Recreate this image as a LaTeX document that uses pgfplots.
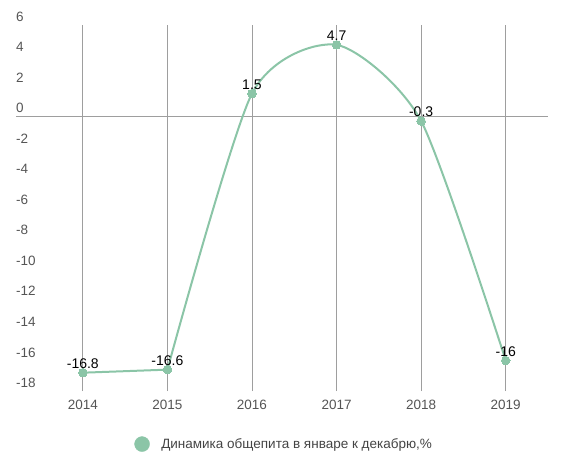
\documentclass[border=0pt]{standalone}
\usepackage{fontspec}
\setmainfont{Liberation Sans}
\usepackage{pgfplots}
\pgfplotsset{compat=1.18}
\definecolor{lc}{HTML}{8BC5A7}
\definecolor{gridc}{HTML}{9E9E9E}
\definecolor{tickc}{HTML}{555555}
\definecolor{legc}{HTML}{444444}
\begin{document}
\begin{tikzpicture}
\useasboundingbox (0,0) rectangle (577bp,466bp);
\begin{axis}[
  at={(16bp,75bp)}, anchor=south west,
  scale only axis, width=532bp, height=366bp,
  xmin=2013.21, xmax=2019.5, ymin=-18, ymax=6,
  axis line style={draw=none},
  major tick length=0pt,
  xtick={2014,2015,2016,2017,2018,2019},
  xticklabels={2014,2015,2016,2017,2018,2019},
  ytick={-18,-16,-14,-12,-10,-8,-6,-4,-2,0,2,4,6},
  yticklabels={-18,-16,-14,-12,-10,-8,-6,-4,-2,0,2,4,6},
  xmajorgrids,
  grid style={gridc, line width=0.8bp},
  extra y ticks={0}, extra y tick labels={},
  extra y tick style={grid=major},
  yticklabel style={font=\fontsize{13.5bp}{15bp}\selectfont, text=tickc, anchor=base west, inner xsep=0pt, inner ysep=0pt, yshift=3.5bp},
  xticklabel style={font=\fontsize{13.5bp}{15bp}\selectfont, text=tickc, anchor=base, inner sep=0pt, yshift=-18.5bp},
  legend style={at={(axis description cs:0.504,-0.145)}, anchor=center, draw=none, fill=none,
    font=\fontsize{13.5bp}{15bp}\selectfont, text=legc},
  legend image code/.code={\fill[lc] (0,0) circle (7.5bp); \path (17bp,0);},
  clip=false,
]
\addplot[lc, line width=2bp, forget plot] coordinates {(2014,-16.8) (2015,-16.6)};
\addplot[lc, line width=2bp, smooth, tension=0.42, forget plot]
coordinates {(2015,-16.6) (2016,1.5) (2017,4.7) (2018,-0.3) (2019,-16)};
\addplot[only marks, mark=*, mark size=4.3bp, mark options={fill=lc, draw=lc, line width=0pt},
  nodes near coords, point meta=explicit symbolic,
  nodes near coords style={font=\fontsize{14bp}{15bp}\selectfont, text=black, anchor=base, inner sep=0pt, yshift=4.5bp}]
coordinates {
 (2014,-16.8) [-16.8]
 (2015,-16.6) [-16.6]
 (2016,1.5) [1.5]
 (2017,4.7) [4.7]
 (2018,-0.3) [-0.3]
 (2019,-16) [-16]
};
\addlegendentry{Динамика общепита в январе к декабрю,\%}
\end{axis}
\end{tikzpicture}
\end{document}
